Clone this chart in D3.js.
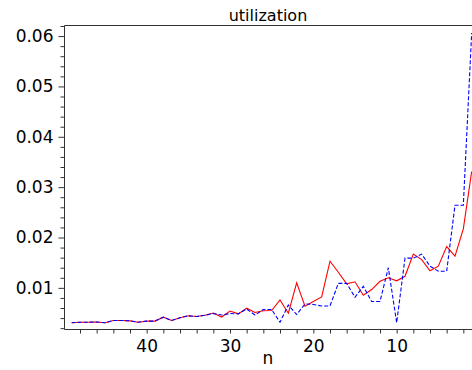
<!DOCTYPE html>
<html>
<head>
<meta charset="utf-8">
<script src="https://cdn.jsdelivr.net/npm/d3@7"></script>
<style>
  body { margin: 0; background: #fff; }
  text { font-family: "DejaVu Sans", sans-serif; fill: #000; }
</style>
</head>
<body>
<div id="chart"></div>
<script>
// values, n runs 49 down to 1
const nValues = [49, 48, 47, 46, 45, 44, 43, 42, 41, 40, 39, 38, 37, 36, 35, 34, 33, 32, 31, 30,
    29, 28, 27, 26, 25, 24, 23, 22, 21, 20, 19, 18, 17, 16, 15, 14, 13, 12, 11, 10,
    9, 8, 7, 6, 5, 4, 3, 2, 1];

const redSeries = [0.00306, 0.00318, 0.00318, 0.00322, 0.00306, 0.00352, 0.00352, 0.00345, 0.00318, 0.0034,
    0.0034, 0.00418, 0.00352, 0.00405, 0.00445, 0.00431, 0.00457, 0.0050, 0.0042, 0.0054,
    0.00484, 0.00596, 0.0051, 0.00545, 0.0055, 0.0076, 0.00497, 0.0110, 0.00635, 0.0073,
    0.0082, 0.0153, 0.0131, 0.0108, 0.0112, 0.00853, 0.00966, 0.0113, 0.0120, 0.0114,
    0.0123, 0.0167, 0.0156, 0.0134, 0.0143, 0.0182, 0.0163, 0.0217, 0.0331];

const blueSeries = [0.00306, 0.00318, 0.00318, 0.00322, 0.00306, 0.00352, 0.00352, 0.00345, 0.00318, 0.0034,
    0.0034, 0.00418, 0.00352, 0.00405, 0.00445, 0.00431, 0.00457, 0.0049, 0.0046, 0.0049,
    0.00484, 0.0058, 0.0046, 0.0057, 0.0057, 0.00318, 0.0066, 0.00471, 0.0068, 0.0067,
    0.0064, 0.0064, 0.0109, 0.0109, 0.00814, 0.0103, 0.00728, 0.00728, 0.0140, 0.00306,
    0.0159, 0.0159, 0.0167, 0.0143, 0.0133, 0.0133, 0.0264, 0.0264, 0.0606];

const xTicks = [40, 30, 20, 10];
const xMinorTicks = [48, 46, 44, 42, 38, 36, 34, 32, 28, 26, 24, 22, 18, 16, 14, 12, 8, 6, 4, 2];
const yTicks = [0.01, 0.02, 0.03, 0.04, 0.05, 0.06];
const yMinorTicks = [0.002, 0.004, 0.006, 0.008, 0.012, 0.014, 0.016, 0.018, 0.022, 0.024, 0.026, 0.028,
    0.032, 0.034, 0.036, 0.038, 0.042, 0.044, 0.046, 0.048, 0.052, 0.054, 0.056, 0.058, 0.062];

const width = 472, height = 370;
const plotLeft = 64, plotRight = 472, plotTop = 25, plotBottom = 329;

const svg = d3.select("#chart")
    .append("svg")
    .attr("width", width)
    .attr("height", height);

const x = d3.scaleLinear()
    .domain([49.92, 0.96])
    .range([plotLeft, plotRight]);

const y = d3.scaleLinear()
    .domain([0.00183, 0.0622])
    .range([plotBottom, plotTop]);

// frame: left, bottom, top
svg.append("path")
    .attr("d", `M${plotRight},${plotTop + 0.5}H${plotLeft + 0.5}V${plotBottom + 0.5}H${plotRight}`)
    .attr("fill", "none")
    .attr("stroke", "#333")
    .attr("stroke-width", 1);

// y axis
const yAxis = svg.append("g")
    .attr("transform", `translate(${plotLeft + 0.5},0)`)
    .call(d3.axisLeft(y).tickValues(yTicks).tickSize(6).tickPadding(5)
        .tickFormat(d3.format(".2f")));
yAxis.select(".domain").remove();
yAxis.selectAll("text").attr("font-size", 17).attr("font-family", "DejaVu Sans, sans-serif");

const yMinor = svg.append("g")
    .attr("transform", `translate(${plotLeft + 0.5},0)`)
    .call(d3.axisLeft(y).tickValues(yMinorTicks).tickSize(4).tickFormat(""));
yMinor.select(".domain").remove();

// x axis
const xAxis = svg.append("g")
    .attr("transform", `translate(0,${plotBottom + 0.5})`)
    .call(d3.axisBottom(x).tickValues(xTicks).tickSize(4).tickPadding(6));
xAxis.select(".domain").remove();
xAxis.selectAll("text").attr("font-size", 17).attr("font-family", "DejaVu Sans, sans-serif");

const xMinor = svg.append("g")
    .attr("transform", `translate(0,${plotBottom + 0.5})`)
    .call(d3.axisBottom(x).tickValues(xMinorTicks).tickSize(4).tickFormat(""));
xMinor.select(".domain").remove();

svg.selectAll(".tick line").attr("stroke", "#333");

// lines
const line = d3.line()
    .x((d, i) => x(nValues[i]))
    .y(d => y(d));

svg.append("path")
    .datum(redSeries)
    .attr("fill", "none")
    .attr("stroke", "#ff0000")
    .attr("stroke-width", 1.1)
    .attr("d", line);

svg.append("path")
    .datum(blueSeries)
    .attr("fill", "none")
    .attr("stroke", "#0000ff")
    .attr("stroke-width", 1.1)
    .attr("stroke-dasharray", "4,2")
    .attr("d", line);

// title and axis label
svg.append("text")
    .attr("x", (plotLeft + plotRight) / 2)
    .attr("y", 20.5)
    .attr("text-anchor", "middle")
    .attr("font-size", 16)
    .text("utilization");

svg.append("text")
    .attr("x", (plotLeft + plotRight) / 2)
    .attr("y", 364)
    .attr("text-anchor", "middle")
    .attr("font-size", 17)
    .text("n");
</script>
</body>
</html>
